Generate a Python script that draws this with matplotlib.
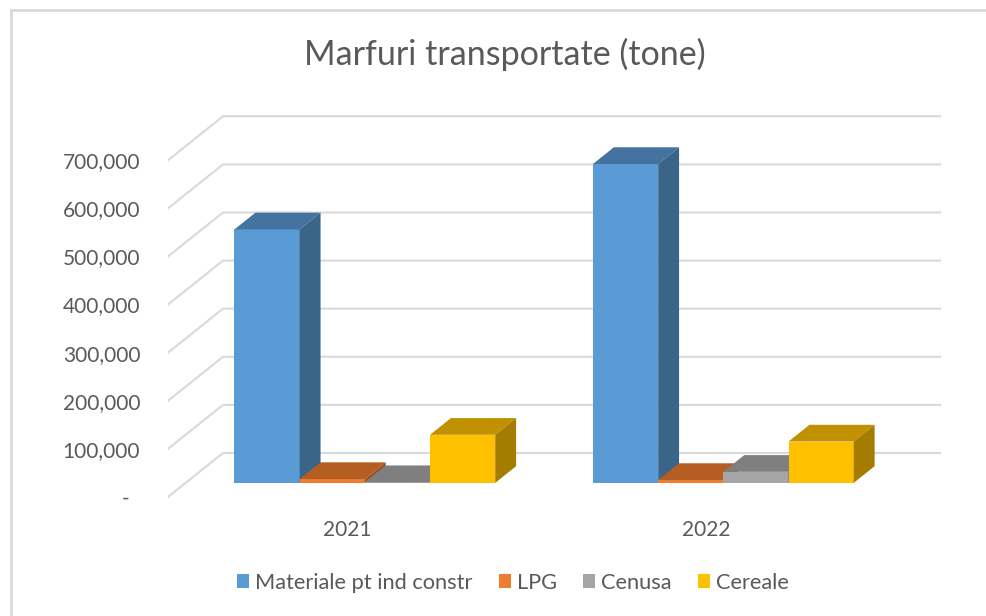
import numpy as np
import matplotlib
matplotlib.use('Agg')
from matplotlib import pyplot as plt
from matplotlib.patches import Polygon, Patch

plt.rcParams['font.family'] = ['Lato', 'DejaVu Sans']

# data (tone)
years = ['2021', '2022']
series = ['Materiale pt ind constr', 'LPG', 'Cenusa', 'Cereale']
materiale = [527000, 663000]
lpg = [8000, 6000]
cenusa = [1500, 23000]
cereale = [100000, 86000]
yticks = [0, 100000, 200000, 300000, 400000, 500000, 600000, 700000]

# face colours: front, top, side
front_c = ['#5B9BD5', '#ED7D31', '#A5A5A5', '#FFC000']
top_c = ['#44739F', '#B55E23', '#7F7F7F', '#C09100']
side_c = ['#3A6589', '#9C5120', '#6E6E6E', '#A47C00']
text_c = '#595959'
grid_c = '#D9D9D9'

# fake 3d: depth offset of the back wall, in data units
DX = 0.1534
DY = 91500
d0, d1 = 0.32, 0.70          # bar depth (fraction of the floor depth)
w = 1 / 5.5                  # bar width, gap width 150%

fig = plt.figure(figsize=(9.86, 6.16), dpi=100)
ax = fig.add_axes([0.17039, 0.1776, 0.7999, 0.6559])
ax.set_xlim(0, 2.2)
ax.set_ylim(-20000, 820000)
for s in ax.spines.values():
    s.set_visible(False)

# gridlines: front edge -> back wall
for v in yticks:
    ax.plot([0, DX, 2 + DX], [v, v + DY, v + DY], color=grid_c, lw=1.5, zorder=1)

values = [materiale, lpg, cenusa, cereale]
z = 2
for i in range(len(years)):
    for j, vals in enumerate(values):
        h = vals[i]
        x0 = i + 0.5 - 2 * w + j * w + d0 * DX
        y0 = d0 * DY
        ddx = (d1 - d0) * DX
        ddy = (d1 - d0) * DY
        ax.bar(x0, h, width=w, bottom=y0, align='edge', color=front_c[j],
               linewidth=0, zorder=z)
        top = Polygon([(x0, y0 + h), (x0 + w, y0 + h), (x0 + w + ddx, y0 + h + ddy),
                       (x0 + ddx, y0 + h + ddy)], closed=True, fc=top_c[j], lw=0, zorder=z + 1)
        side = Polygon([(x0 + w, y0), (x0 + w + ddx, y0 + ddy), (x0 + w + ddx, y0 + h + ddy),
                        (x0 + w, y0 + h)], closed=True, fc=side_c[j], lw=0, zorder=z + 1)
        ax.add_patch(top)
        ax.add_patch(side)
        z += 2

ax.set_yticks(yticks)
ax.set_yticklabels(['-  '] + [f'{v:,}' for v in yticks[1:]])
ax.set_xticks([0.5, 1.5])
ax.set_xticklabels(years)
ax.tick_params(axis='y', length=0, pad=20, labelsize=15, labelcolor=text_c)
ax.tick_params(axis='x', length=0, pad=9.6, labelsize=15, labelcolor=text_c)

fig.text(0.512, 0.912, 'Marfuri transportate (tone)', ha='center', va='center',
         fontsize=24.5, color=text_c)

handles = [Patch(facecolor=c, edgecolor='none') for c in front_c]
fig.legend(handles, series, loc='center', bbox_to_anchor=(0.5205, 0.054), ncol=4,
           frameon=False, fontsize=15.7, labelcolor=text_c, handlelength=0.55,
           handleheight=0.55, handletextpad=0.28, columnspacing=1.2)

# chart border (only top and left visible in the crop)
fig.add_artist(plt.Line2D([11 / 986, 11 / 986], [0, 1 - 10 / 616], color=grid_c, lw=2,
                          transform=fig.transFigure))
fig.add_artist(plt.Line2D([11 / 986, 1], [1 - 10 / 616, 1 - 10 / 616], color=grid_c, lw=2,
                          transform=fig.transFigure))

fig.savefig('out.png', dpi=100)
